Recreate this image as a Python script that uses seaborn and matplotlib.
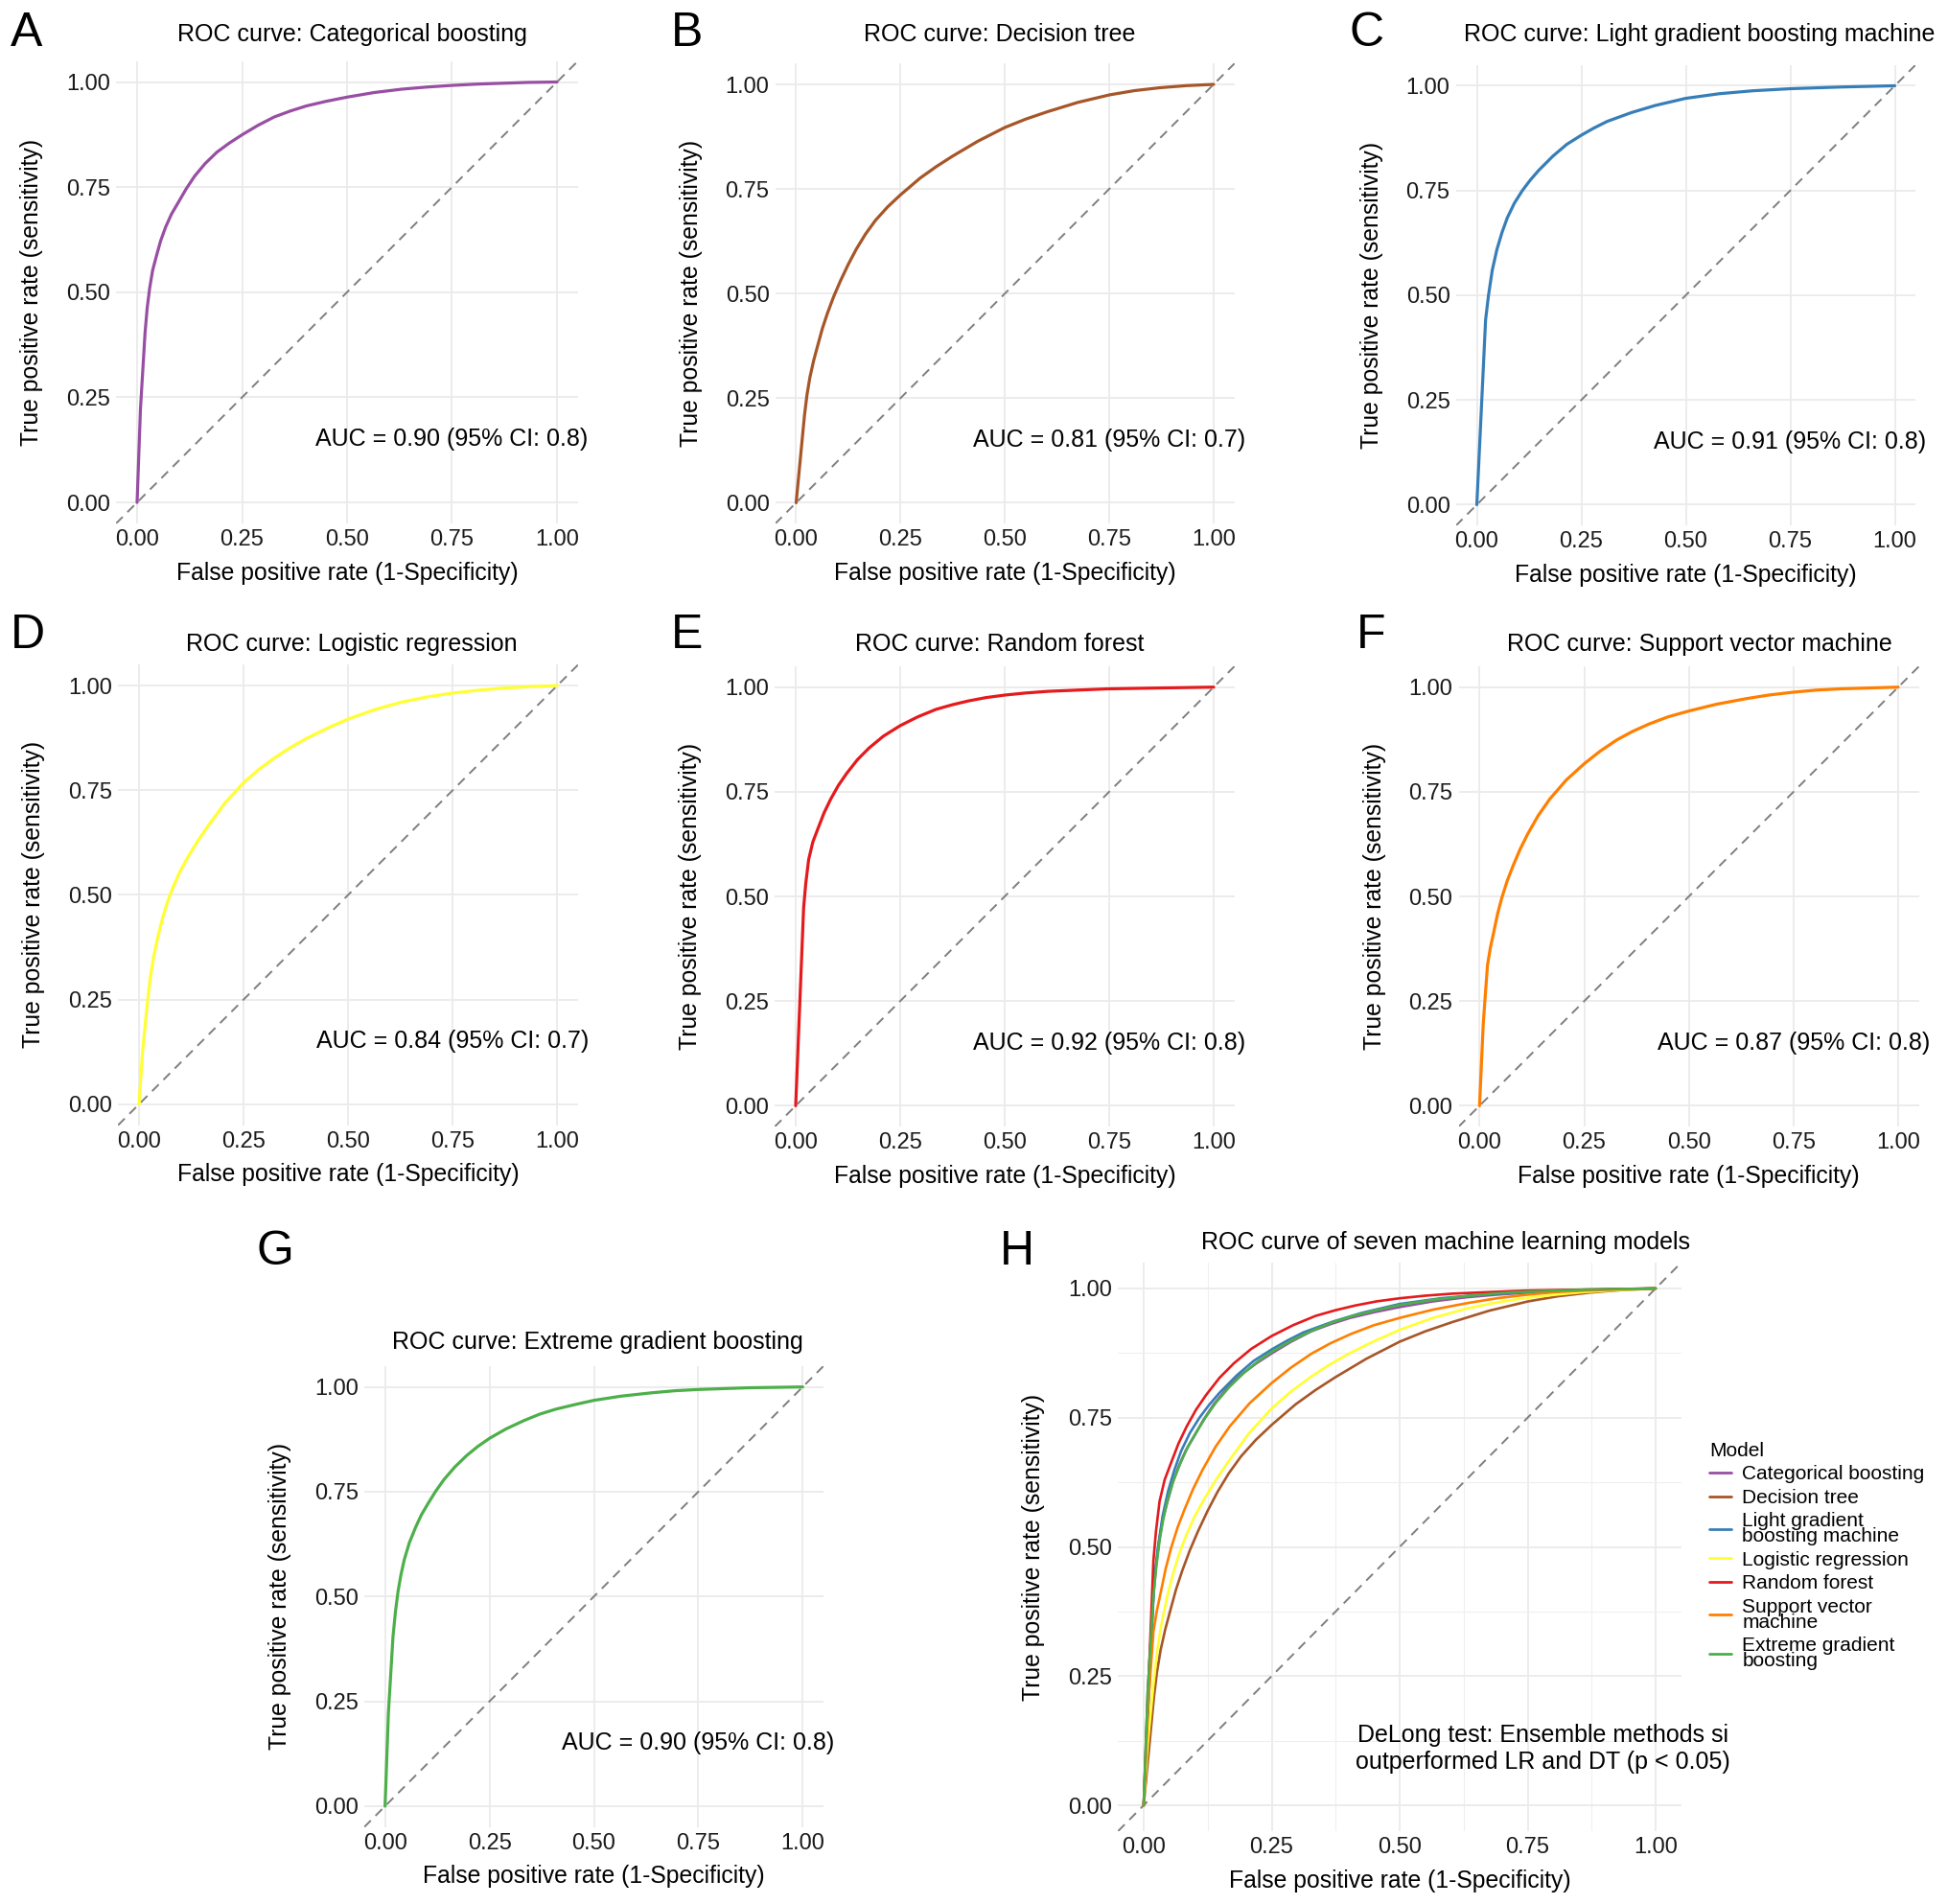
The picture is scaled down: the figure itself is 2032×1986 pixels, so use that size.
import matplotlib
matplotlib.use("Agg")
import matplotlib.pyplot as plt
import numpy as np
import pandas as pd
import seaborn as sns

# ---------------- data ----------------
models = ["Categorical boosting", "Decision tree", "Light gradient boosting machine",
          "Logistic regression", "Random forest", "Support vector machine",
          "Extreme gradient boosting"]
legend_labels = ["Categorical boosting", "Decision tree", "Light gradient\nboosting machine",
                 "Logistic regression", "Random forest", "Support vector\nmachine",
                 "Extreme gradient\nboosting"]
colors = ["#984EA3", "#A65628", "#377EB8", "#FFFF33", "#E41A1C", "#FF7F00", "#4DAF4A"]
auc_values = [0.90, 0.81, 0.91, 0.84, 0.92, 0.87, 0.90]
ci_values = ["0.8", "0.7", "0.8", "0.7", "0.8", "0.8", "0.8"]
panel_letters = ["A", "B", "C", "D", "E", "F", "G"]

cb_fpr = [0, 0.008, 0.019, 0.024, 0.030, 0.037, 0.046, 0.056, 0.068, 0.082, 0.099, 0.117, 0.137,
          0.162, 0.190, 0.220, 0.251, 0.288, 0.327, 0.365, 0.403, 0.450, 0.500, 0.565, 0.631,
          0.690, 0.751, 0.810, 0.870, 0.930, 1.0]
cb_tpr = [0, 0.222, 0.404, 0.462, 0.510, 0.552, 0.586, 0.622, 0.655, 0.686, 0.715, 0.746, 0.776,
          0.806, 0.833, 0.855, 0.875, 0.897, 0.917, 0.931, 0.943, 0.954, 0.964, 0.975, 0.983,
          0.988, 0.992, 0.995, 0.997, 0.999, 1.0]

dt_fpr = [0, 0.020, 0.026, 0.033, 0.042, 0.052, 0.063, 0.075, 0.090, 0.106, 0.125, 0.144, 0.166,
          0.190, 0.219, 0.250, 0.297, 0.335, 0.374, 0.435, 0.500, 0.550, 0.603, 0.675, 0.751,
          0.810, 0.871, 0.935, 1.0]
dt_tpr = [0, 0.209, 0.258, 0.300, 0.340, 0.377, 0.417, 0.453, 0.493, 0.530, 0.570, 0.606, 0.642,
          0.675, 0.707, 0.736, 0.776, 0.803, 0.828, 0.864, 0.897, 0.917, 0.935, 0.957, 0.975,
          0.985, 0.992, 0.997, 1.0]

lgbm_fpr = [0, 0.021, 0.025, 0.028, 0.037, 0.048, 0.060, 0.073, 0.090, 0.109, 0.128, 0.148, 0.182,
            0.215, 0.250, 0.280, 0.312, 0.370, 0.427, 0.500, 0.580, 0.660, 0.750, 0.870, 1.0]
lgbm_tpr = [0, 0.441, 0.475, 0.500, 0.560, 0.609, 0.649, 0.685, 0.720, 0.750, 0.775, 0.798, 0.832,
            0.860, 0.882, 0.899, 0.915, 0.936, 0.953, 0.970, 0.981, 0.988, 0.993, 0.997, 1.0]

lr_fpr = [0, 0.008, 0.019, 0.026, 0.034, 0.045, 0.057, 0.068, 0.080, 0.098, 0.118, 0.140, 0.164,
          0.205, 0.250, 0.287, 0.325, 0.362, 0.401, 0.450, 0.500, 0.565, 0.630, 0.690, 0.750,
          0.805, 0.859, 0.930, 1.0]
lr_tpr = [0, 0.120, 0.233, 0.295, 0.347, 0.400, 0.447, 0.483, 0.515, 0.556, 0.592, 0.628, 0.663,
          0.719, 0.768, 0.800, 0.828, 0.852, 0.874, 0.898, 0.920, 0.943, 0.961, 0.973, 0.982,
          0.988, 0.993, 0.997, 1.0]

rf_fpr = [0, 0.019, 0.024, 0.031, 0.041, 0.054, 0.068, 0.084, 0.102, 0.122, 0.148, 0.176, 0.210,
          0.250, 0.292, 0.336, 0.375, 0.413, 0.455, 0.500, 0.550, 0.604, 0.675, 0.750, 0.870, 1.0]
rf_tpr = [0, 0.473, 0.530, 0.588, 0.630, 0.664, 0.700, 0.733, 0.765, 0.794, 0.827, 0.855, 0.883,
          0.908, 0.929, 0.947, 0.958, 0.967, 0.975, 0.981, 0.986, 0.990, 0.993, 0.996, 0.998, 1.0]

svm_fpr = [0, 0.009, 0.019, 0.026, 0.034, 0.043, 0.053, 0.066, 0.080, 0.097, 0.115, 0.140, 0.168,
           0.207, 0.250, 0.288, 0.328, 0.365, 0.405, 0.450, 0.500, 0.565, 0.634, 0.690, 0.750,
           0.805, 0.863, 0.930, 1.0]
svm_tpr = [0, 0.198, 0.336, 0.378, 0.415, 0.458, 0.496, 0.537, 0.573, 0.613, 0.649, 0.693, 0.733,
           0.778, 0.817, 0.847, 0.874, 0.894, 0.912, 0.929, 0.943, 0.959, 0.972, 0.981, 0.988,
           0.993, 0.996, 0.998, 1.0]

xgb_fpr = [0, 0.008, 0.019, 0.025, 0.031, 0.038, 0.046, 0.058, 0.073, 0.087, 0.103, 0.121, 0.141,
           0.167, 0.195, 0.222, 0.251, 0.290, 0.333, 0.370, 0.409, 0.455, 0.500, 0.565, 0.638,
           0.695, 0.752, 0.870, 1.0]
xgb_tpr = [0, 0.223, 0.405, 0.465, 0.512, 0.552, 0.588, 0.628, 0.665, 0.695, 0.722, 0.751, 0.779,
           0.809, 0.836, 0.858, 0.878, 0.900, 0.920, 0.935, 0.947, 0.958, 0.968, 0.978, 0.986,
           0.991, 0.994, 0.998, 1.0]

fpr_list = [cb_fpr, dt_fpr, lgbm_fpr, lr_fpr, rf_fpr, svm_fpr, xgb_fpr]
tpr_list = [cb_tpr, dt_tpr, lgbm_tpr, lr_tpr, rf_tpr, svm_tpr, xgb_tpr]

tick_vals = [0.0, 0.25, 0.5, 0.75, 1.0]
tick_labels = ["0.00", "0.25", "0.50", "0.75", "1.00"]
minor_vals = [0.125, 0.375, 0.625, 0.875]

combined_title = "ROC curve of seven machine learning models"
delong_text = "DeLong test: Ensemble methods si\noutperformed LR and DT (p < 0.05)"
xlab = "False positive rate (1-Specificity)"
ylab = "True positive rate (sensitivity)"

# ---------------- layout ----------------
W, H = 2032, 1986
DPI = 200
sns.set_theme(style="white")
plt.rcParams["font.family"] = ["Liberation Sans", "DejaVu Sans"]
plt.rcParams["text.color"] = "black"

fig = plt.figure(figsize=(W / DPI, H / DPI), dpi=DPI)
fig.patch.set_facecolor("white")

# axes rectangles in pixels: left, top, width, height
rects = [
    (121.1, 63.6, 481.8, 482.4),
    (808.7, 66.2, 479.0, 480.0),
    (1518.7, 67.6, 479.6, 480.7),
    (123.2, 693.2, 480.0, 480.4),
    (808.2, 694.9, 479.6, 480.3),
    (1521.5, 694.9, 480.4, 480.3),
    (379.9, 1424.8, 479.2, 481.0),
]
rect_H = (1166.3, 1317.0, 587.4, 593.0)
title_pos = [(367, 36), (1043, 36), (1773, 36), (367, 672), (1043, 672), (1773, 672), (623, 1400)]
title_pos_H = (1508, 1296)
letter_pos = [(11, 12), (700, 12), (1407, 12), (11, 640), (700, 640), (1415, 640), (267, 1283)]
letter_pos_H = (1043, 1283)


def add_ax(r):
    l, t, w, h = r
    return fig.add_axes([l / W, 1 - (t + h) / H, w / W, h / H])


def style(ax, r, minor=False):
    l, t, w, h = r
    ax.set_xlim(-0.05, 1.05)
    ax.set_ylim(-0.05, 1.05)
    ax.set_xticks(tick_vals)
    ax.set_xticklabels(tick_labels)
    ax.set_yticks(tick_vals)
    ax.set_yticklabels(tick_labels)
    ax.grid(True, which="major", color="#EBEBEB", lw=0.65)
    if minor:
        ax.set_xticks(minor_vals, minor=True)
        ax.set_yticks(minor_vals, minor=True)
        ax.grid(True, which="minor", color="#EFEFEF", lw=0.4)
    ax.tick_params(which="both", length=0, pad=2.2, labelsize=8.5, labelcolor="#1A1A1A")
    for s in ax.spines.values():
        s.set_visible(False)
    ax.set_axisbelow(True)
    ax.set_facecolor("white")
    ax.set_xlabel(xlab, fontsize=8.9, color="black")
    ax.set_ylabel(ylab, fontsize=8.9, color="black")
    ax.xaxis.set_label_coords(0.5, -51.5 / h)
    ax.xaxis.label.set_va("center")
    ax.yaxis.set_label_coords(-88 / w, 0.5)
    ax.yaxis.label.set_va("center")
    ax.axline((0, 0), (1, 1), color="#7F7F7F", lw=0.7, ls=(0, (5, 3.6)), zorder=1.5)


for i in range(7):
    ax = add_ax(rects[i])
    style(ax, rects[i])
    sns.lineplot(x=fpr_list[i], y=tpr_list[i], ax=ax, color=colors[i],
                 linewidth=1.15, sort=False, estimator=None, zorder=3)
    ax.text(0.75, 0.15, f"AUC = {auc_values[i]:.2f} (95% CI: {ci_values[i]})",
            ha="center", va="center", fontsize=9)
    cx, cy = title_pos[i]
    fig.text(cx / W, 1 - cy / H, f"ROC curve: {models[i]}", ha="center", va="center", fontsize=9)
    lx, ly = letter_pos[i]
    fig.text(lx / W, 1 - ly / H, panel_letters[i], ha="left", va="top", fontsize=18)

# ---------------- combined panel H ----------------
axH = add_ax(rect_H)
style(axH, rect_H, minor=True)
df = pd.concat([pd.DataFrame({"fpr": f, "tpr": t, "Model": m})
                for f, t, m in zip(fpr_list, tpr_list, models)], ignore_index=True)
sns.lineplot(data=df, x="fpr", y="tpr", hue="Model", hue_order=models,
             palette=dict(zip(models, colors)), ax=axH, linewidth=0.95,
             sort=False, estimator=None, zorder=3)
axH.set_xlabel(xlab, fontsize=8.9)
axH.set_ylabel(ylab, fontsize=8.9)
axH.text(0.78, 0.11, delong_text, ha="center", va="center", multialignment="center",
         fontsize=9, linespacing=1.2)
handles, _ = axH.get_legend_handles_labels()
if axH.get_legend() is not None:
    axH.get_legend().remove()
leg = fig.legend(handles[:7], legend_labels, title="Model", loc="upper left",
                 bbox_to_anchor=(1783 / W, 1 - 1504 / H), bbox_transform=fig.transFigure,
                 frameon=False, fontsize=7.5, title_fontsize=7.5, handlelength=1.1,
                 handletextpad=0.55, labelspacing=0.26, borderpad=0, borderaxespad=0,
                 alignment="left")
for t in leg.get_texts():
    t.set_linespacing(0.8)
for ln in leg.get_lines():
    ln.set_linewidth(1.0)
cx, cy = title_pos_H
fig.text(cx / W, 1 - cy / H, combined_title, ha="center", va="center", fontsize=9)
fig.text(letter_pos_H[0] / W, 1 - letter_pos_H[1] / H, "H", ha="left", va="top", fontsize=18)

fig.savefig("out.png", dpi=DPI, facecolor="white")
